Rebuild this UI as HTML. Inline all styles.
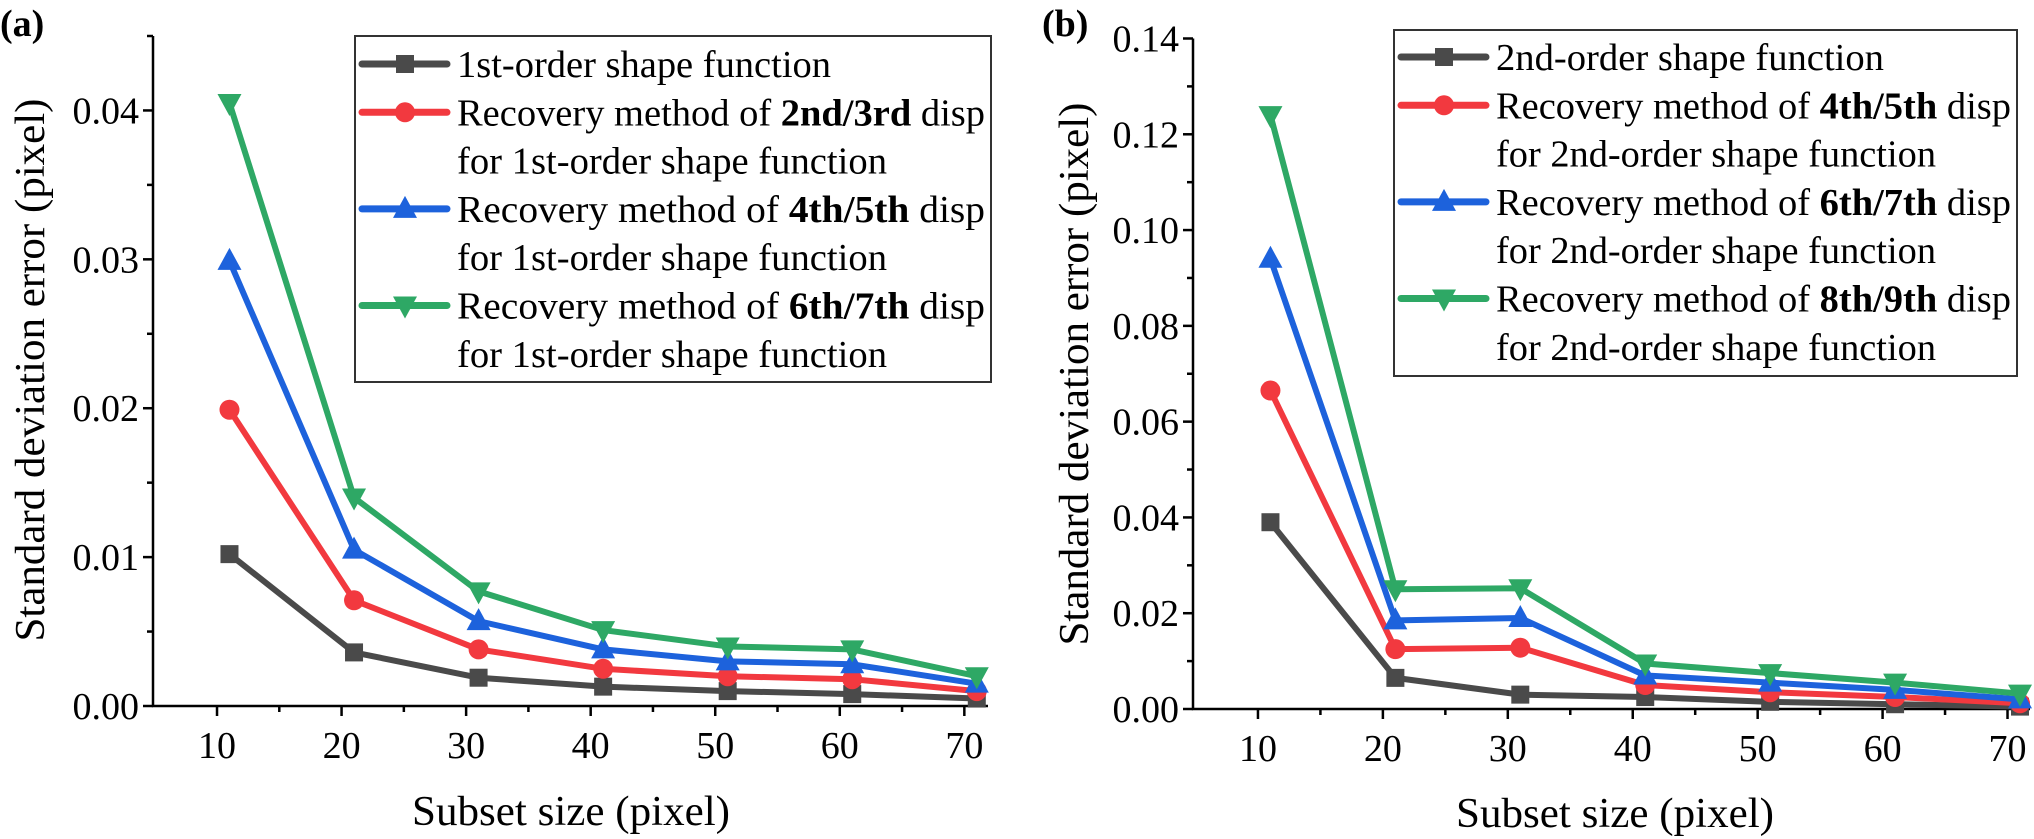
<!DOCTYPE html>
<html><head><meta charset="utf-8">
<style>
html,body{margin:0;padding:0;background:#fff;}
svg{display:block;font-family:"Liberation Serif","DejaVu Serif",serif;}
svg text{font-family:"Liberation Serif","DejaVu Serif",serif;}
</style></head>
<body>
<svg id="fig" width="2034" height="839" viewBox="0 0 2034 839" font-family="Liberation Serif, DejaVu Serif, serif"></svg>
<script>
const categories = [11, 21, 31, 41, 51, 61, 71];
const xTicks = [10, 20, 30, 40, 50, 60, 70];
const aBlack = [0.0102, 0.0036, 0.0019, 0.0013, 0.0010, 0.0008, 0.0005];
const aRed   = [0.0199, 0.0071, 0.0038, 0.0025, 0.0020, 0.0018, 0.0010];
const aBlue  = [0.0299, 0.0105, 0.0057, 0.0038, 0.0030, 0.0028, 0.0015];
const aGreen = [0.0405, 0.0140, 0.0077, 0.0051, 0.0040, 0.0038, 0.0020];
const aYTicks = ["0.00", "0.01", "0.02", "0.03", "0.04"];
const bBlack = [0.0390, 0.0065, 0.0030, 0.0025, 0.0015, 0.0010, 0.0005];
const bRed   = [0.0665, 0.0125, 0.0128, 0.0050, 0.0035, 0.0025, 0.0012];
const bBlue  = [0.0940, 0.0185, 0.0190, 0.0070, 0.0055, 0.0040, 0.0020];
const bGreen = [0.1240, 0.0250, 0.0252, 0.0095, 0.0075, 0.0055, 0.0032];
const bYTicks = ["0.00", "0.02", "0.04", "0.06", "0.08", "0.10", "0.12", "0.14"];
const aLegend = [["1st-order shape function"], ["2nd/3rd", "for 1st-order shape function"], ["4th/5th", "for 1st-order shape function"], ["6th/7th", "for 1st-order shape function"]];
const bLegend = [["2nd-order shape function"], ["4th/5th", "for 2nd-order shape function"], ["6th/7th", "for 2nd-order shape function"], ["8th/9th", "for 2nd-order shape function"]];

const NS = "http://www.w3.org/2000/svg";
const svg = document.getElementById("fig");
const COLORS = ["#4a4a4a", "#f2393f", "#1d62dc", "#2ea865"];
const MARKERS = ["square", "circle", "up", "down"];
const NAMES = ["black", "red", "blue", "green"];
const FF = "Liberation Serif, DejaVu Serif, serif";

function mk(tag, attrs, parent) {
  const e = document.createElementNS(NS, tag);
  for (const k in attrs) e.setAttribute(k, attrs[k]);
  if (tag === "text") e.setAttribute("font-family", FF);
  (parent || svg).appendChild(e);
  return e;
}
function marker(g, type, x, y, c, s) {
  let e;
  if (type === "square") e = mk("rect", {x: x - s, y: y - s, width: 2 * s, height: 2 * s, fill: c}, g);
  else if (type === "circle") e = mk("circle", {cx: x, cy: y, r: s + 1, fill: c}, g);
  else if (type === "up") e = mk("polygon", {points: `${x},${y - s - 4} ${x - s - 3},${y + s} ${x + s + 3},${y + s}`, fill: c}, g);
  else e = mk("polygon", {points: `${x},${y + s + 4} ${x - s - 3},${y - s} ${x + s + 3},${y - s}`, fill: c}, g);
  
  
}

function panel(p) {
  const g = mk("g", {});
  
  
  const X = v => p.x0 + (v - p.xmin) / (p.xmax - p.xmin) * (p.x1 - p.x0);
  const Y = v => p.y0 - (v - p.ymin) / (p.ymax - p.ymin) * (p.y0 - p.y1);
  const lbl = mk("text", {x: p.labelX, y: p.labelY, "font-size": 38, "font-weight": "bold"}, g);
  lbl.textContent = p.label;
  
  
  const ax = mk("path", {d: `M${p.x0},${p.y1} V${p.y0} H${p.x1}`, stroke: "#000", "stroke-width": 2.5, fill: "none"}, g);
  
  
  p.yTicks.forEach(t => {
    const v = parseFloat(t), y = Y(v);
    mk("line", {x1: p.x0 - 10, x2: p.x0, y1: y, y2: y, stroke: "#000", "stroke-width": 2.5}, g);
    const tx = mk("text", {x: p.x0 - 14, y: y + 13, "font-size": 38, "text-anchor": "end"}, g);
    tx.textContent = t;
    
    
    const vm = v + p.ystep / 2;
    if (vm <= p.ymax) {
      const ym = Y(vm);
      mk("line", {x1: p.x0 - 6, x2: p.x0, y1: ym, y2: ym, stroke: "#000", "stroke-width": 2.5}, g);
    }
  });
  xTicks.forEach(t => {
    const x = X(t);
    mk("line", {x1: x, x2: x, y1: p.y0, y2: p.y0 + 10, stroke: "#000", "stroke-width": 2.5}, g);
    if (t + 5 <= p.xmax) {
      const xm = X(t + 5);
      mk("line", {x1: xm, x2: xm, y1: p.y0, y2: p.y0 + 6, stroke: "#000", "stroke-width": 2.5}, g);
    }
    const tx = mk("text", {x: x, y: p.y0 + 52, "font-size": 38, "text-anchor": "middle"}, g);
    tx.textContent = t;
    
    
  });
  const yt = mk("text", {x: 0, y: 0, "font-size": 42, "text-anchor": "middle", textLength: 543, lengthAdjust: "spacingAndGlyphs", transform: `translate(${p.ytX},${p.ytY}) rotate(-90)`}, g);
  yt.textContent = "Standard deviation error (pixel)";
  
  
  const xt = mk("text", {x: p.xtX, y: p.xtY, "font-size": 42, "text-anchor": "middle", textLength: 318, lengthAdjust: "spacingAndGlyphs"}, g);
  xt.textContent = "Subset size (pixel)";
  
  
  p.series.forEach((vals, si) => {
    const sg = mk("g", {}, g);
    
    
    const pts = categories.map((c, i) => `${X(c)},${Y(vals[i])}`).join(" ");
    const pl = mk("polyline", {points: pts, fill: "none", stroke: COLORS[si], "stroke-width": 6, "stroke-linejoin": "round"}, sg);
    
    
    categories.forEach((c, i) => marker(sg, MARKERS[si], X(c), Y(vals[i]), COLORS[si], 9));
  });
  const lg = mk("g", {}, g);
  
  
  mk("rect", {x: p.lx, y: p.ly, width: p.lw, height: p.lh, fill: "#fff", stroke: "#333", "stroke-width": 2}, lg);
  let row = 0;
  p.legend.forEach((ent, si) => {
    const cy = p.ly + p.firstRow + row * 48.3;
    const eg = mk("g", {}, lg);
    
    
    mk("line", {x1: p.lx + 7, x2: p.lx + 92, y1: cy, y2: cy, stroke: COLORS[si], "stroke-width": 7, "stroke-linecap": "round"}, eg);
    marker(eg, MARKERS[si], p.lx + 50, cy, COLORS[si], 9);
    const tx = p.lx + 102;
    if (ent.length === 1) {
      const t = mk("text", {x: tx, y: cy + 13, "font-size": 38, textLength: p.l1w, lengthAdjust: "spacingAndGlyphs"}, eg);
      t.textContent = ent[0];
    } else {
      const t = mk("text", {x: tx, y: cy + 13, "font-size": 38, textLength: p.l2w, lengthAdjust: "spacingAndGlyphs"}, eg);
      const a = mk("tspan", {}, t); a.textContent = "Recovery method of ";
      const b = mk("tspan", {"font-weight": "bold"}, t); b.textContent = ent[0];
      const c = mk("tspan", {}, t); c.textContent = " disp";
      row++;
      const t2 = mk("text", {x: tx, y: cy + 48.3 + 13, "font-size": 38, textLength: p.l3w, lengthAdjust: "spacingAndGlyphs"}, eg);
      t2.textContent = ent[1];
    }
    row++;
  });
}

panel({name: "panel-a", label: "(a)", labelX: 0, labelY: 36, x0: 153, x1: 988, y0: 706, y1: 36,
  xmin: 4.86, xmax: 71.9, ymin: 0, ymax: 0.045, ystep: 0.01, yTicks: aYTicks, ytX: 44, ytY: 370,
  xtX: 571, xtY: 825,
  series: [aBlack, aRed, aBlue, aGreen], legend: aLegend, lx: 355, ly: 36, lw: 636, lh: 346,
  firstRow: 28, l1w: 374, l2w: 528, l3w: 430});
panel({name: "panel-b", label: "(b)", labelX: 1042, labelY: 36, x0: 1193, x1: 2030, y0: 709, y1: 38.5,
  xmin: 4.8, xmax: 71.8, ymin: 0, ymax: 0.14, ystep: 0.02, yTicks: bYTicks, ytX: 1088, ytY: 374,
  xtX: 1615, xtY: 827,
  series: [bBlack, bRed, bBlue, bGreen], legend: bLegend, lx: 1394, ly: 30, lw: 623, lh: 346,
  firstRow: 27, l1w: 388, l2w: 515, l3w: 440});
</script>
</body></html>
